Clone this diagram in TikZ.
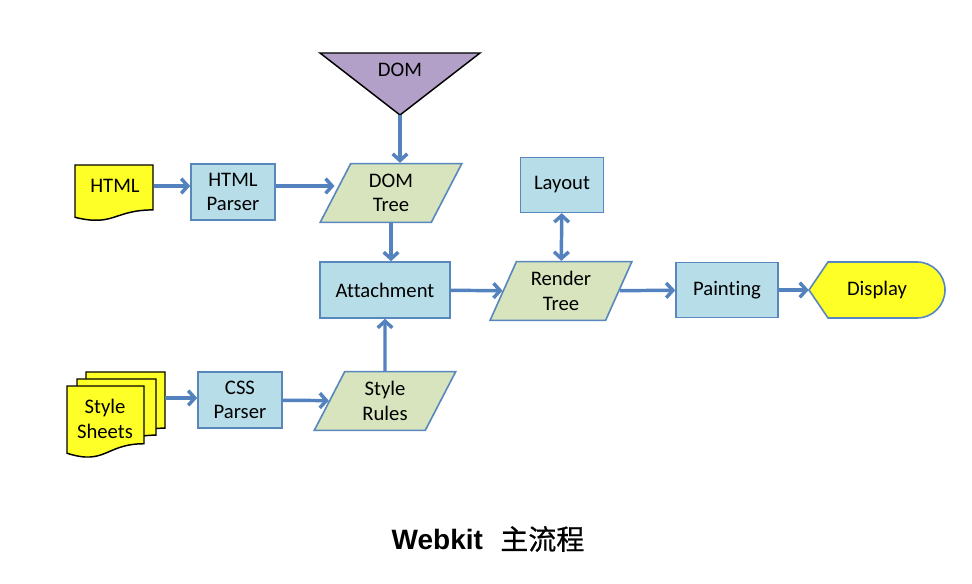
\documentclass[tikz,border=0pt]{standalone}
\usepackage{fontspec}
\setmainfont{Carlito}[Ligatures=NoCommon]
\newfontfamily\titlefont{Liberation Sans}
\newfontfamily\cjk[FakeBold=0.6]{Noto Sans CJK SC}
\usetikzlibrary{shapes.geometric,arrows.meta}

\definecolor{boxblue}{RGB}{183,221,232}
\definecolor{edgeblue}{RGB}{88,135,190}
\definecolor{arrowblue}{RGB}{84,130,190}
\definecolor{paragreen}{RGB}{215,228,189}
\definecolor{docyellow}{RGB}{255,255,40}
\definecolor{dompurple}{RGB}{178,160,200}

% x, y, width, height of a document shape (pixel units)
\newcommand{\docshape}[4]{%
	\filldraw[fill=docyellow,draw=black,line width=1.1pt] (#1,#2) -- ({#1+#3},#2) -- ({#1+#3},{#2+0.802*#4})
		.. controls ({#1+0.5*#3},{#2+0.802*#4}) and ({#1+0.5*#3},{#2+1.107*#4}) .. (#1,{#2+0.934*#4}) -- cycle;}

\begin{document}
\begin{tikzpicture}[x=0.75pt,y=-0.75pt]
		\tikzstyle{unit}=[draw=edgeblue,line width=1.2pt,fill=boxblue,minimum width=63pt,minimum height=42pt,align=center,font=\fontsize{15.5}{18.5}\selectfont]
		\tikzstyle{datanode}=[trapezium,trapezium left angle=67,trapezium right angle=113,trapezium stretches,draw=edgeblue,line width=1.2pt,fill=paragreen,minimum width=106.5pt,minimum height=44pt,align=center,font=\fontsize{15.5}{18.5}\selectfont]
		\tikzstyle{txt}=[align=center,font=\fontsize{15.5}{18.5}\selectfont]
		\tikzstyle{flow}=[draw=arrowblue,line width=2.6pt,-{Straight Barb[length=5pt,width=11pt]}]

		\useasboundingbox[fill=white] (0,0) rectangle (972,584);

		% sources
		\filldraw[fill=dompurple,draw=black,line width=1.1pt] (320,53) -- (480,53) -- (400,115) -- cycle;
		\coordinate (domtip) at (400,115);
		\node[txt](dom) at (400,70){DOM};

		\docshape{75}{165}{78}{56}
		\node[txt,minimum width=58.5pt](html) at (115,186){HTML};

		\docshape{86}{372}{79}{70}
		\docshape{77}{379}{79}{70}
		\docshape{67}{386}{77}{72}
		\node[txt](sheets) at (105,419){Style\\Sheets};
		\coordinate (sheetsout) at (165,398);

		\filldraw[fill=docyellow,draw=edgeblue,line width=1.2pt] (809,290) -- (828,262) -- (917,262) arc[start angle=90,end angle=-90,radius=21pt] -- (828,318) -- cycle;
		\node[txt,minimum width=102pt](disp) at (877,290){Display};

		% processes
		\node[unit](hparser) at (233,192){HTML\\Parser};
		\node[unit](cparser) at (240,400){CSS\\Parser};
		\node[unit,minimum width=97.5pt](attach) at (385,290){Attachment};
		\node[unit,minimum width=62pt,minimum height=41pt](layout) at (562,185){Layout};
		\node[unit,minimum width=76.5pt,minimum height=41.5pt](paint) at (727,290){Painting};

		% data
		\node[datanode](domtree) at (391,193){DOM\\Tree};
		\node[datanode](rtree) at (561,291){Render\\Tree};
		\node[datanode](srules) at (385,401){Style\\Rules};

		\draw[flow] (html.east) -- (html.east -| hparser.west);
		\draw[flow] (hparser.east |- html) -- (html -| domtree.west);
		\draw[flow] (domtip) -- (domtip |- domtree.north);
		\draw[flow] (domtree.south) -- (domtree.south |- attach.north);
		\draw[flow] (sheetsout) -- (sheetsout -| cparser.west);
		\draw[flow] (cparser) -- (srules);
		\draw[flow] (srules) -- (attach);
		\draw[flow] (attach) -- (rtree);
		\draw[flow,{Straight Barb[length=5pt,width=11pt]}-{Straight Barb[length=5pt,width=11pt]}] (rtree) -- (layout);
		\draw[flow] (rtree) -- (paint);
		\draw[flow] (paint) -- (disp);

		\node(title) at (488,539){\fontsize{21}{25}\selectfont{\titlefont\bfseries Webkit}\hspace{13pt}{\cjk\mdseries 主流程}};
\end{tikzpicture}
\end{document}
